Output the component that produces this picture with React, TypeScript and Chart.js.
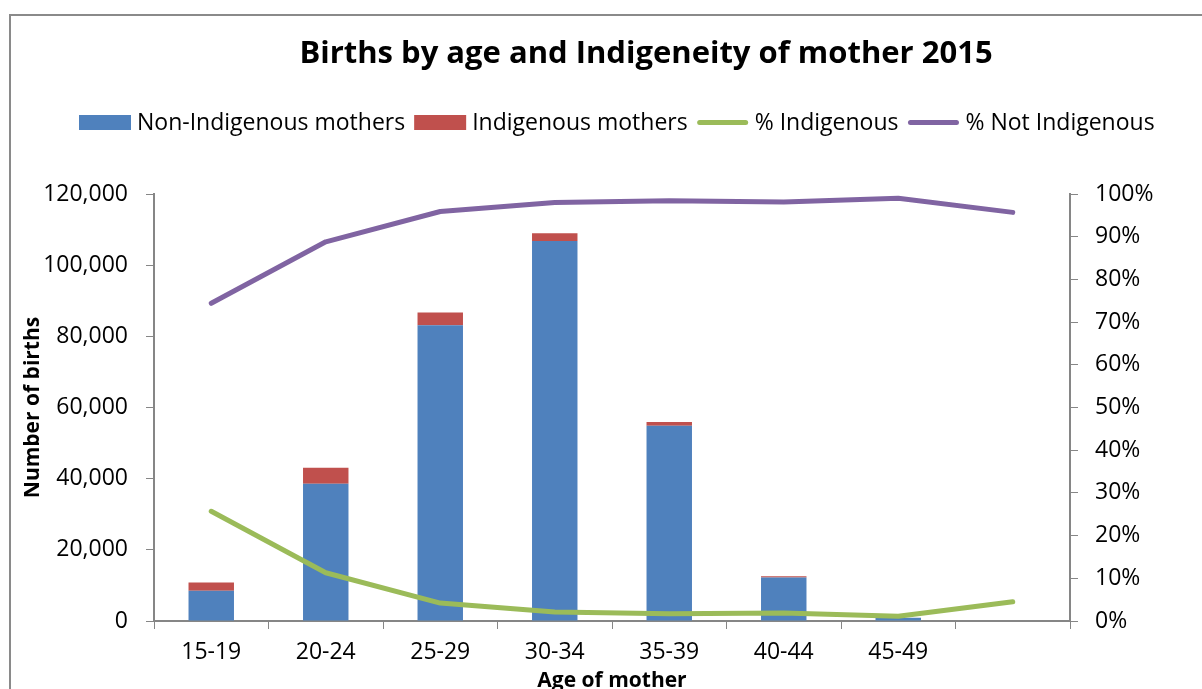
import React, { useEffect, useRef } from 'react';
import { Chart, registerables } from 'chart.js';

Chart.register(...registerables);

// ---- data ----
const titleText = 'Births by age and Indigeneity of mother 2015';
const categories = ['15-19', '20-24', '25-29', '30-34', '35-39', '40-44', '45-49', ''];
const nonIndigenous = [8500, 38600, 83100, 106800, 54900, 12200, 900, null];
const indigenous = [2300, 4500, 3600, 2200, 1000, 400, 20, null];
const pctIndigenous = [25.7, 11.3, 4.2, 2.1, 1.7, 1.9, 1.1, 4.5];
const pctNotIndigenous = [74.4, 88.8, 95.9, 98.0, 98.4, 98.1, 99.0, 95.7];
const seriesLabels = ['Non-Indigenous mothers', 'Indigenous mothers', '% Indigenous', '% Not Indigenous'];
const yTitle = 'Number of births';
const xTitle = 'Age of mother';

const W = 1202;
const H = 720;
const FONT = "'Open Sans', sans-serif";
const AXIS = '#868686';
const BLUE = '#4F81BD';
const RED = '#C0504D';
const GREEN = '#9BBB59';
const PURPLE = '#8064A2';

const chromePlugin = {
  id: 'chrome',
  beforeDraw(chart: any) {
    const ctx = chart.ctx as CanvasRenderingContext2D;
    ctx.save();
    ctx.fillStyle = '#ffffff';
    ctx.fillRect(0, 0, chart.width, chart.height);
    // outer frame
    ctx.strokeStyle = '#8a8a8a';
    ctx.lineWidth = 2;
    ctx.beginPath();
    ctx.moveTo(10, chart.height);
    ctx.lineTo(10, 15);
    ctx.lineTo(chart.width, 15);
    ctx.stroke();
    // title
    ctx.fillStyle = '#000';
    ctx.font = `bold 31px ${FONT}`;
    ctx.textAlign = 'center';
    ctx.textBaseline = 'alphabetic';
    ctx.fillText(titleText, 646, 63);
    // legend
    ctx.font = `23px ${FONT}`;
    ctx.textAlign = 'left';
    let x = 79;
    const baseY = 130;
    const midY = 122.5;
    chart.data.datasets.forEach((ds: any) => {
      const color = ds.type === 'line' ? ds.borderColor : ds.backgroundColor;
      if (ds.type === 'line') {
        ctx.strokeStyle = color;
        ctx.lineWidth = 5;
        ctx.lineCap = 'round';
        ctx.beginPath();
        ctx.moveTo(x + 3, midY);
        ctx.lineTo(x + 49, midY);
        ctx.stroke();
      } else {
        ctx.fillStyle = color;
        ctx.fillRect(x, 115, 52, 15);
      }
      ctx.fillStyle = '#000';
      ctx.fillText(ds.label, x + 58, baseY);
      x += 58 + ctx.measureText(ds.label).width + 9;
    });
    ctx.restore();
  },
};

export default function App() {
  const ref = useRef<HTMLCanvasElement | null>(null);

  useEffect(() => {
    if (!ref.current) return;
    const chart = new Chart(ref.current, {
      type: 'bar',
      data: {
        labels: categories,
        datasets: [
          {
            type: 'bar',
            label: seriesLabels[0],
            data: nonIndigenous,
            yAxisID: 'y',
            backgroundColor: BLUE,
            borderWidth: 0,
            barPercentage: 0.397,
            categoryPercentage: 1,
            order: 1,
          } as any,
          {
            type: 'bar',
            label: seriesLabels[1],
            data: indigenous,
            yAxisID: 'y',
            backgroundColor: RED,
            borderWidth: 0,
            barPercentage: 0.397,
            categoryPercentage: 1,
            order: 1,
          } as any,
          {
            type: 'line',
            label: seriesLabels[2],
            data: pctIndigenous,
            yAxisID: 'y1',
            borderColor: GREEN,
            backgroundColor: GREEN,
            borderWidth: 5,
            pointRadius: 0,
            borderCapStyle: 'round',
            borderJoinStyle: 'round',
            tension: 0,
            order: 0,
          } as any,
          {
            type: 'line',
            label: seriesLabels[3],
            data: pctNotIndigenous,
            yAxisID: 'y1',
            borderColor: PURPLE,
            backgroundColor: PURPLE,
            borderWidth: 5,
            pointRadius: 0,
            borderCapStyle: 'round',
            borderJoinStyle: 'round',
            tension: 0,
            order: 0,
          } as any,
        ],
      },
      options: {
        responsive: false,
        animation: false,
        devicePixelRatio: 1,
        layout: { padding: { top: 194, left: 0, right: 0, bottom: 0 } },
        plugins: {
          legend: { display: false },
          title: { display: false },
          tooltip: { enabled: false },
        },
        scales: {
          x: {
            stacked: true,
            offset: true,
            grid: { display: true, drawOnChartArea: false, drawTicks: true, tickLength: 8, color: AXIS, offset: true },
            border: { display: true, color: AXIS, width: 2 },
            ticks: { color: '#000', font: { family: FONT, size: 23 }, padding: 10, maxRotation: 0, autoSkip: false },
            title: { display: true, text: xTitle, color: '#000', font: { family: FONT, size: 21, weight: 'bold' }, padding: { top: 0, bottom: 26 } },
            afterFit: (s: any) => { s.height = 99; },
          },
          y: {
            stacked: true,
            position: 'left',
            min: 0,
            max: 120000,
            grid: { display: true, drawOnChartArea: false, drawTicks: true, tickLength: 8, color: AXIS },
            border: { display: true, color: AXIS, width: 2 },
            ticks: {
              stepSize: 20000,
              color: '#000',
              font: { family: FONT, size: 23 },
              padding: 18,
              callback: (v: any) => Number(v).toLocaleString('en-US'),
            },
            title: { display: true, text: yTitle, color: '#000', font: { family: FONT, size: 21, weight: 'bold' }, padding: { top: 20, bottom: 0 } },
            afterFit: (s: any) => { s.width = 154; },
          },
          y1: {
            position: 'right',
            min: 0,
            max: 100,
            grid: { display: true, drawOnChartArea: false, drawTicks: true, tickLength: 8, color: AXIS },
            border: { display: true, color: AXIS, width: 2 },
            ticks: {
              stepSize: 10,
              color: '#000',
              font: { family: FONT, size: 23 },
              padding: 17,
              callback: (v: any) => `${v}%`,
            },
            afterFit: (s: any) => { s.width = 132; },
          },
        },
      },
      plugins: [chromePlugin],
    });
    return () => chart.destroy();
  }, []);

  return (
    <div style={{ position: 'fixed', left: 0, top: 0, width: W, height: 689, overflow: 'hidden', background: '#fff' }}>
      <canvas ref={ref} width={W} height={H} style={{ display: 'block', width: W, height: H }} />
    </div>
  );
}
